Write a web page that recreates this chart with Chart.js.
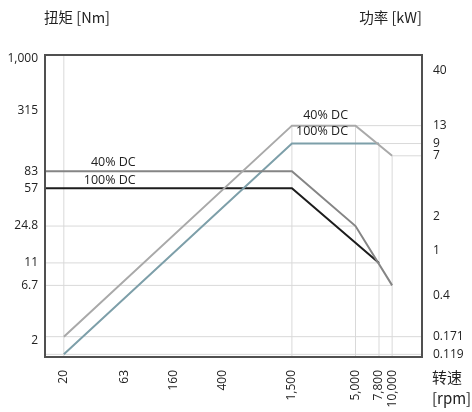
<!DOCTYPE html>
<html>
<head>
<meta charset="utf-8">
<script src="https://cdn.jsdelivr.net/npm/chart.js@4.4.1/dist/chart.umd.min.js"></script>
<style>
  html, body { margin: 0; padding: 0; background: #fff; }
  #wrap { width: 472px; height: 412px; }
</style>
</head>
<body>
<div id="wrap"><canvas id="motorChart"></canvas></div>
<script>
// tick labels
var rpmTicks = [20, 63, 160, 400, 1500, 5000, 7800, 10000];
var torqueTicks = [2, 6.7, 11, 24.8, 57, 83, 315, 1000];
var powerTicks = [0.119, 0.171, 0.4, 1, 2, 7, 9, 13, 40];

// axis ranges
var RPM_MIN = 14, RPM_MAX = 17600;
var T_MIN = 1.38, T_MAX = 1080;
var P_MIN = 0.1127, P_MAX = 55.4;

// torque curves (left axis, Nm)
var torque40Rpm = [RPM_MIN, 1500, 5000, 10000];
var torque40Nm = [83, 83, 24.8, 6.7];
var torque100Rpm = [RPM_MIN, 1500, 7800];
var torque100Nm = [57, 57, 11];

// power curves (right axis, kW)
var power40Rpm = [20, 1500, 5000, 10000];
var power40kW = [0.171, 13, 13, 7];
var power100Rpm = [20, 1500, 7800];
var power100kW = [0.119, 9, 9];

function pts(xs, ys) {
  return xs.map(function (x, i) { return { x: x, y: ys[i] }; });
}

// light guide lines: [axis, [x0, y0], [x1, y1]]
var guides = [
  ['yT', [20, T_MIN], [20, T_MAX]],
  ['yP', [1500, P_MIN], [1500, 13]],
  ['yP', [5000, P_MIN], [5000, 13]],
  ['yP', [7800, P_MIN], [7800, 9]],
  ['yP', [10000, P_MIN], [10000, 7]],
  ['yP', [5000, 13], [RPM_MAX, 13]],
  ['yP', [7800, 9], [RPM_MAX, 9]],
  ['yP', [10000, 7], [RPM_MAX, 7]],
  ['yT', [RPM_MIN, 24.8], [5000, 24.8]],
  ['yT', [RPM_MIN, 11], [7800, 11]],
  ['yT', [RPM_MIN, 6.7], [10000, 6.7]],
  ['yP', [RPM_MIN, 0.171], [RPM_MAX, 0.171]],
  ['yP', [RPM_MIN, 0.119], [RPM_MAX, 0.119]]
];

// curve labels, right aligned at (rpm, value), shifted up by dy px
var notes = [
  { text: '40% DC', axis: 'yT', rpm: 78, value: 83, dy: -9 },
  { text: '100% DC', axis: 'yT', rpm: 78, value: 57, dy: -8 },
  { text: '40% DC', axis: 'yP', rpm: 4340, value: 13, dy: -10 },
  { text: '100% DC', axis: 'yP', rpm: 4340, value: 9, dy: -12 }
];

var datasets = [
  { data: pts(power40Rpm, power40kW), yAxisID: 'yP', borderColor: '#a9a9a9', order: 1 },
  { data: pts(torque40Rpm, torque40Nm), yAxisID: 'yT', borderColor: '#858585', order: 2 },
  { data: pts(power100Rpm, power100kW), yAxisID: 'yP', borderColor: '#7d9fa9', order: 3 },
  { data: pts(torque100Rpm, torque100Nm), yAxisID: 'yT', borderColor: '#1c1c1c', order: 4 }
];
datasets.forEach(function (d) { d.borderWidth = 2; });

guides.forEach(function (g) {
  datasets.push({
    data: [{ x: g[1][0], y: g[1][1] }, { x: g[2][0], y: g[2][1] }],
    yAxisID: g[0],
    borderColor: '#d9d9d9',
    borderWidth: 1,
    order: 10
  });
});

function fmt(v) {
  return v >= 1000 ? v.toLocaleString('en-US') : String(v);
}

var tickFont = { family: 'Open Sans', size: 12 };

var textPlugin = {
  id: 'frameAndText',
  afterDatasetsDraw: function (chart) {
    var ctx = chart.ctx, a = chart.chartArea;
    ctx.save();
    ctx.strokeStyle = '#505050';
    ctx.lineWidth = 2;
    ctx.strokeRect(a.left, a.top, a.right - a.left, a.bottom - a.top);

    ctx.fillStyle = '#222';
    ctx.font = '12.5px "Open Sans"';
    ctx.textAlign = 'right';
    ctx.textBaseline = 'middle';
    notes.forEach(function (n) {
      var x = chart.scales.x.getPixelForValue(n.rpm);
      var y = chart.scales[n.axis].getPixelForValue(n.value) + n.dy;
      ctx.fillText(n.text, x, y);
    });

    ctx.font = '14.5px "Noto Sans CJK SC"';
    ctx.textAlign = 'left';
    ctx.fillText('扭矩 [Nm]', a.left - 1, 17);
    ctx.textAlign = 'right';
    ctx.fillText('功率 [kW]', a.right, 17);
    ctx.textAlign = 'left';
    ctx.font = '15px "Noto Sans CJK SC"';
    ctx.fillText('转速', a.right + 10, 377);
    ctx.fillText('[rpm]', a.right + 10, 398);
    ctx.restore();
  }
};

new Chart(document.getElementById('motorChart'), {
  type: 'line',
  data: { datasets: datasets },
  options: {
    responsive: true,
    maintainAspectRatio: false,
    animation: false,
    layout: { padding: { top: 55, left: 0, right: 0, bottom: 0 } },
    elements: { point: { radius: 0 }, line: { tension: 0 } },
    plugins: { legend: { display: false }, tooltip: { enabled: false } },
    scales: {
      x: {
        type: 'logarithmic',
        min: RPM_MIN,
        max: RPM_MAX,
        grid: { display: false, drawTicks: false },
        border: { display: false },
        afterBuildTicks: function (s) { s.ticks = rpmTicks.map(function (v) { return { value: v }; }); },
        afterFit: function (s) { s.height = 55; },
        ticks: {
          autoSkip: false, minRotation: 90, maxRotation: 90, padding: 13,
          color: '#222', font: tickFont,
          callback: function (v) { return fmt(v); }
        }
      },
      yT: {
        type: 'logarithmic',
        position: 'left',
        min: T_MIN,
        max: T_MAX,
        grid: { display: false, drawTicks: false },
        border: { display: false },
        afterBuildTicks: function (s) { s.ticks = torqueTicks.map(function (v) { return { value: v }; }); },
        afterFit: function (s) { s.width = 45; },
        ticks: { padding: 7, color: '#222', font: tickFont, callback: function (v) { return fmt(v); } }
      },
      yP: {
        type: 'logarithmic',
        position: 'right',
        min: P_MIN,
        max: P_MAX,
        grid: { display: false, drawTicks: false },
        border: { display: false },
        afterBuildTicks: function (s) { s.ticks = powerTicks.map(function (v) { return { value: v }; }); },
        afterFit: function (s) { s.width = 50; },
        ticks: { padding: 11, color: '#222', font: tickFont, callback: function (v) { return fmt(v); } }
      }
    }
  },
  plugins: [textPlugin]
});
</script>
</body>
</html>
